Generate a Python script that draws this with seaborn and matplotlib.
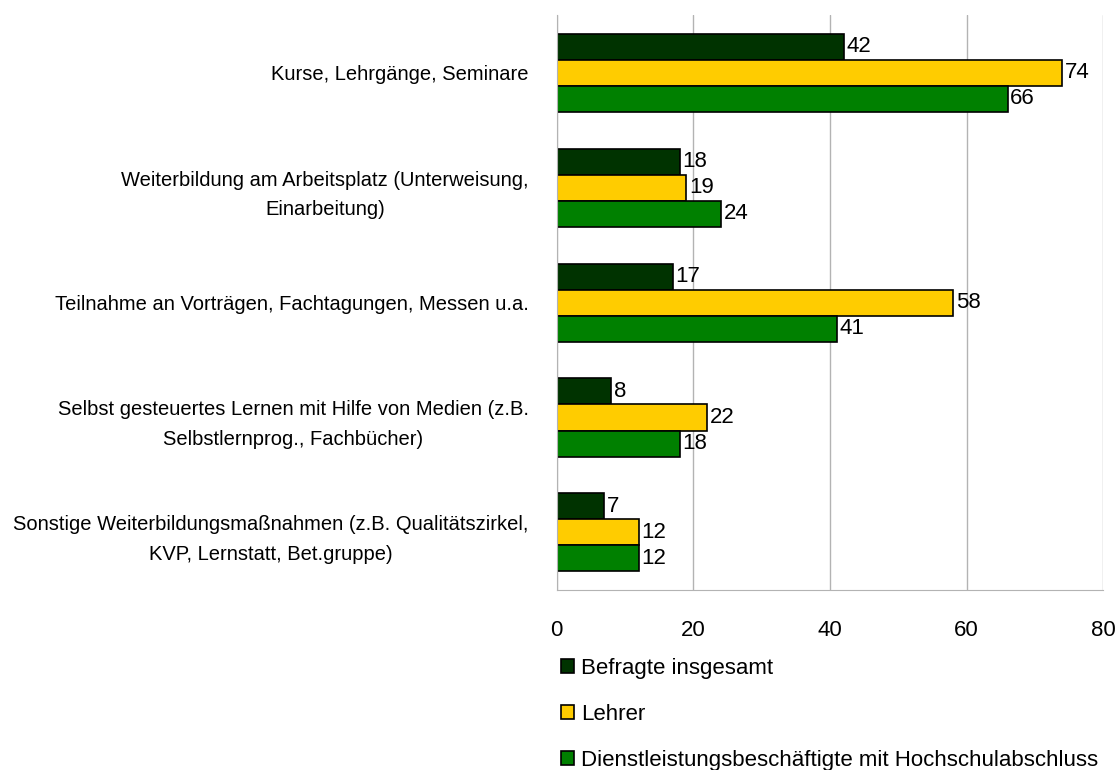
import pandas as pd
import seaborn as sns
import matplotlib.pyplot as plt
from matplotlib.ticker import FixedLocator

# ---DATA-----------------------------------------------------------------------
categories = [
    "Kurse, Lehrgänge, Seminare",
    "Weiterbildung am Arbeitsplatz (Unterweisung,\nEinarbeitung)",
    "Teilnahme an Vorträgen, Fachtagungen, Messen u.a.",
    "Selbst gesteuertes Lernen mit Hilfe von Medien (z.B.\nSelbstlernprog., Fachbücher)",
    "Sonstige Weiterbildungsmaßnahmen (z.B. Qualitätszirkel,\nKVP, Lernstatt, Bet.gruppe)",
]
series = ["Befragte insgesamt", "Lehrer", "Dienstleistungsbeschäftigte mit Hochschulabschluss"]
befragte = [42, 18, 17, 8, 7]
lehrer = [74, 19, 58, 22, 12]
dienstleistung = [66, 24, 41, 18, 12]
colors = ["#003300", "#FFCC00", "#008000"]

# ---PLOT-----------------------------------------------------------------------
sns.set_style("white")
plt.rcParams["font.family"] = ["Liberation Sans", "DejaVu Sans"]
plt.rcParams["text.color"] = "black"
plt.rcParams["xtick.labelcolor"] = "black"
plt.rcParams["ytick.labelcolor"] = "black"

rows = []
for name, vals in zip(series, [befragte, lehrer, dienstleistung]):
    for cat, v in zip(categories, vals):
        rows.append({"Kategorie": cat, "Gruppe": name, "Wert": v})
data = pd.DataFrame(rows)

fig = plt.figure(figsize=(11.2, 7.7), dpi=100)
ax = fig.add_axes([0.497, 0.234, 0.488, 0.746])

sns.barplot(data=data, x="Wert", y="Kategorie", hue="Gruppe", hue_order=series,
            palette=colors, saturation=1, orient="h", width=0.68, gap=0,
            edgecolor="black", linewidth=1.2, legend=False, ax=ax)

for cont in ax.containers:
    ax.bar_label(cont, fmt="%d", padding=2, fontsize=16)

ax.set_xlim(0, 80)
ax.set_ylim(4.5, -0.5)
ax.set_xticks([0, 20, 40, 60, 80])
ax.xaxis.grid(True, color="#b3b3b3", linewidth=1)
ax.set_axisbelow(True)
ax.set_xlabel("")
ax.set_ylabel("")

for side in ["top", "right"]:
    ax.spines[side].set_visible(False)
for side in ["left", "bottom"]:
    ax.spines[side].set_color("#b3b3b3")

ax.tick_params(axis="x", length=8, color="#b3b3b3", labelsize=16, pad=14)
ax.tick_params(axis="y", which="major", length=0, labelsize=14.5, pad=20)
ax.yaxis.set_minor_locator(FixedLocator([-0.5, 0.5, 1.5, 2.5, 3.5]))
ax.tick_params(axis="y", which="minor", length=8, color="#b3b3b3", direction="out")
for lbl in ax.get_yticklabels():
    lbl.set_multialignment("center")
    lbl.set_linespacing(1.7)

handles = [plt.Rectangle((0, 0), 1, 1, facecolor=c, edgecolor="black", linewidth=1.2)
           for c in colors]
fig.legend(handles, series, loc="upper left", bbox_to_anchor=(0.493, 0.157),
           frameon=False, fontsize=16, handlelength=0.6, handleheight=0.6,
           handletextpad=0.3, labelspacing=1.12, borderaxespad=0)

plt.savefig("out.png", dpi=100)
